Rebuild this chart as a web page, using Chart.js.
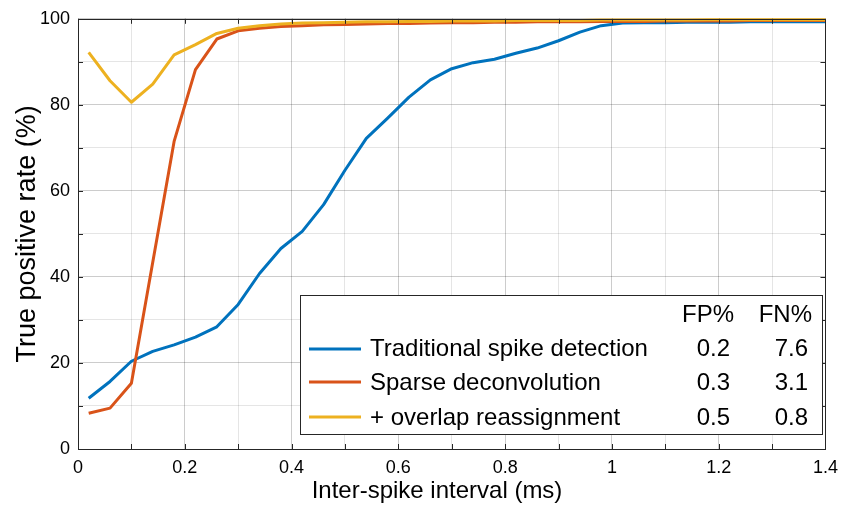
<!DOCTYPE html>
<html>
<head>
<meta charset="utf-8">
<script src="https://cdn.jsdelivr.net/npm/chart.js@4.4.1/dist/chart.umd.min.js"></script>
<style>
  html, body { margin: 0; padding: 0; background: #ffffff; }
  #wrap { width: 846px; height: 507px; }
</style>
</head>
<body>
<div id="wrap"><canvas id="c" width="846" height="507"></canvas></div>
<script>
// ---- data ----
const intervals = [0.02,0.06,0.10,0.14,0.18,0.22,0.26,0.30,0.34,0.38,0.42,0.46,0.50,0.54,0.58,0.62,0.66,0.70,0.74,0.78,0.82,0.86,0.90,0.94,0.98,1.02,1.06,1.10,1.14,1.18,1.22,1.26,1.30,1.34,1.38,1.42];
const traditional = [11.8,15.7,20.4,22.7,24.2,26.0,28.4,33.6,40.8,46.6,50.6,56.8,64.8,72.2,76.9,81.8,85.8,88.4,89.8,90.6,92.0,93.2,94.9,96.9,98.4,99.0,99.1,99.1,99.2,99.2,99.2,99.3,99.3,99.3,99.3,99.3];
const sparse = [8.3,9.5,15.3,43.4,71.5,88.2,95.3,97.2,97.8,98.2,98.4,98.6,98.7,98.8,98.9,98.9,99.0,99.1,99.1,99.2,99.2,99.3,99.3,99.3,99.4,99.4,99.4,99.5,99.5,99.5,99.5,99.6,99.6,99.6,99.6,99.6];
const overlap = [92.2,85.6,80.6,84.8,91.6,94.0,96.6,97.8,98.4,98.8,99.0,99.1,99.2,99.3,99.3,99.4,99.4,99.5,99.5,99.5,99.6,99.6,99.6,99.6,99.7,99.7,99.7,99.7,99.7,99.8,99.8,99.8,99.8,99.8,99.8,99.8];
const seriesNames = ['Traditional spike detection','Sparse deconvolution','+ overlap reassignment'];
const fpPercent = ['0.2','0.3','0.5'];
const fnPercent = ['7.6','3.1','0.8'];
const xTickLabels = ['0','0.2','0.4','0.6','0.8','1','1.2','1.4'];
const yTickLabels = ['0','20','40','60','80','100'];
const xAxisTitle = 'Inter-spike interval (ms)';
const yAxisTitle = 'True positive rate (%)';
const colors = ['#0072BD','#D95319','#EDB120'];

const FONT = '"Liberation Sans", Arial, Helvetica, sans-serif';
const INK = '#262626';

function toPts(ys) { return ys.map((y, i) => ({ x: intervals[i], y })); }

const boxPlugin = {
  id: 'boxTicks',
  afterDatasetsDraw(chart) {
    const { ctx, chartArea: a, scales } = chart;
    ctx.save();
    ctx.strokeStyle = INK;
    ctx.lineWidth = 1;
    const L = 5;
    ctx.beginPath();
    for (let k = 0; k <= 14; k++) {
      const px = Math.round(scales.x.getPixelForValue(k / 10)) + 0.5;
      ctx.moveTo(px, a.bottom); ctx.lineTo(px, a.bottom - L);
      ctx.moveTo(px, a.top); ctx.lineTo(px, a.top + L);
    }
    for (let k = 0; k <= 10; k++) {
      const py = Math.round(scales.y.getPixelForValue(k * 10)) + 0.5;
      ctx.moveTo(a.left, py); ctx.lineTo(a.left + L, py);
      ctx.moveTo(a.right, py); ctx.lineTo(a.right - L, py);
    }
    ctx.stroke();
    ctx.strokeRect(Math.round(a.left) + 0.5, Math.round(a.top) + 0.5, Math.round(a.right - a.left), Math.round(a.bottom - a.top));
    ctx.restore();
  },
  afterDraw(chart) {
    const { ctx } = chart;
    ctx.save();
    // x-axis title (placed as in the reference, slightly left of the axis centre)
    ctx.font = '24px ' + FONT;
    ctx.fillStyle = '#000000';
    ctx.textAlign = 'center';
    ctx.textBaseline = 'middle';
    ctx.fillText(xAxisTitle, 437, 491);
    // legend table
    const bx = 300.5, by = 295.5, bw = 522, bh = 139;
    ctx.fillStyle = '#ffffff';
    ctx.fillRect(bx, by, bw, bh);
    ctx.strokeStyle = INK;
    ctx.lineWidth = 1;
    ctx.strokeRect(bx, by, bw, bh);
    ctx.font = '24px ' + FONT;
    ctx.fillStyle = '#000000';
    ctx.textBaseline = 'alphabetic';
    ctx.textAlign = 'right';
    ctx.fillText('FP%', 734, 322);
    ctx.fillText('FN%', 812, 322);
    const baselines = [356, 390, 425];
    const lineYs = [349, 382, 417];
    for (let i = 0; i < 3; i++) {
      ctx.strokeStyle = colors[i];
      ctx.lineWidth = 3;
      ctx.beginPath();
      ctx.moveTo(309, lineYs[i]); ctx.lineTo(361, lineYs[i]);
      ctx.stroke();
      ctx.textAlign = 'left';
      ctx.fillText(seriesNames[i], 370, baselines[i]);
      ctx.textAlign = 'right';
      ctx.fillText(fpPercent[i], 730, baselines[i]);
      ctx.fillText(fnPercent[i], 808, baselines[i]);
    }
    ctx.restore();
  }
};

function isMajor(v, step) { return Math.round(v / step) % 2 === 0; }

new Chart(document.getElementById('c'), {
  type: 'line',
  data: {
    datasets: [
      { label: seriesNames[0], data: toPts(traditional), borderColor: colors[0], backgroundColor: colors[0], order: 3 },
      { label: seriesNames[1], data: toPts(sparse), borderColor: colors[1], backgroundColor: colors[1], order: 2 },
      { label: seriesNames[2], data: toPts(overlap), borderColor: colors[2], backgroundColor: colors[2], order: 1 }
    ]
  },
  options: {
    responsive: false,
    animation: false,
    devicePixelRatio: 1,
    layout: { padding: { top: 17, right: 16, left: 0, bottom: 0 } },
    elements: {
      line: { borderWidth: 3, tension: 0, borderJoinStyle: 'round', borderCapStyle: 'butt' },
      point: { radius: 0, hoverRadius: 0 }
    },
    datasets: { line: { clip: { left: 0, right: 0, top: 3, bottom: 0 } } },
    plugins: { legend: { display: false }, tooltip: { enabled: false }, title: { display: false } },
    scales: {
      x: {
        type: 'linear', min: 0, max: 1.4,
        afterFit(s) { s.height = 58; },
        ticks: {
          stepSize: 0.1, autoSkip: false, maxRotation: 0, padding: 8,
          color: '#000000', font: { family: FONT, size: 18 },
          callback(v) { const k = Math.round(v * 10); return k % 2 === 0 ? xTickLabels[k / 2] : ''; }
        },
        grid: {
          drawTicks: false,
          color(c) { return isMajor(c.tick.value, 0.1) ? 'rgba(0,0,0,0.20)' : 'rgba(0,0,0,0.10)'; },
          lineWidth: 1
        },
        border: { display: false },
        title: { display: false }
      },
      y: {
        type: 'linear', min: 0, max: 100,
        afterFit(s) { s.width = 78; },
        ticks: {
          stepSize: 10, autoSkip: false, padding: 8,
          color: '#000000', font: { family: FONT, size: 18 },
          callback(v) { const k = Math.round(v / 10); return k % 2 === 0 ? yTickLabels[k / 2] : ''; }
        },
        grid: {
          drawTicks: false,
          color(c) { return isMajor(c.tick.value, 10) ? 'rgba(0,0,0,0.20)' : 'rgba(0,0,0,0.10)'; },
          lineWidth: 1
        },
        border: { display: false },
        title: { display: true, text: yAxisTitle, color: '#000000', font: { family: FONT, size: 27 }, padding: { top: 11, bottom: 0 } }
      }
    }
  },
  plugins: [boxPlugin]
});
</script>
</body>
</html>
